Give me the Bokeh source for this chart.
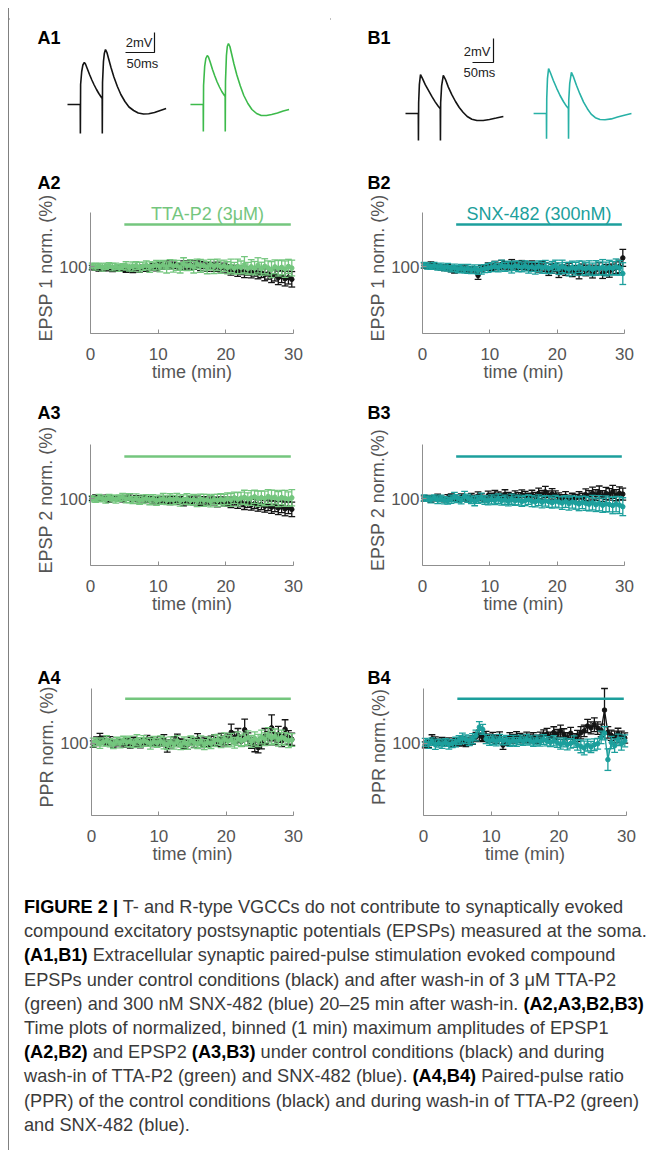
import math
from bokeh.plotting import figure
from bokeh.layouts import column, row
from bokeh.models import Range1d, FixedTicker, LinearAxis, Div
from bokeh.core.properties import value
from bokeh.embed import file_html
from bokeh.resources import INLINE

FONT = "Liberation Sans"

# ---------------- example traces (A1, B1) ----------------
A1_T = [0, 22, 22.2, 22.6, 24.5, 26.5, 29, 31, 34, 38, 42, 46, 50, 54, 58, 59.8, 60, 60.4, 62, 63.5, 65.5,
        68, 71, 75, 80, 86, 92, 99, 106, 114, 122, 131, 140, 150, 160, 170]
A1_CTRL = [0, 0, -2.9, 2.0, 3.3, 3.95, 4.2, 4.05, 3.6, 3.0, 2.45, 1.95, 1.5, 1.1, 0.75, 0.6, -2.9, 2.2, 4.3, 5.1, 5.5,
           5.2, 4.55, 3.7, 2.75, 1.8, 1.0, 0.3, -0.25, -0.6, -0.85, -0.95, -0.92, -0.8, -0.6, -0.4]
A1_TTA = [0, 0, -2.7, 1.9, 3.8, 4.6, 4.9, 4.75, 4.25, 3.5, 2.85, 2.25, 1.75, 1.3, 0.95, 0.8, -2.7, 2.3, 4.9, 5.8, 6.1,
          5.8, 5.05, 4.05, 2.95, 1.85, 0.9, 0.1, -0.5, -0.9, -1.1, -1.1, -1.0, -0.85, -0.65, -0.5]

B1_T = [0, 30.5, 30.8, 31.3, 33, 35.7, 40, 47, 55, 63, 71, 78, 82.8, 83.2, 83.7, 86, 90, 95, 102, 110,
        119, 128, 137, 147, 158, 170, 185, 200, 216, 233]
B1_CTRL = [0, 0, -2.25, 0.9, 2.4, 3.25, 2.95, 2.4, 1.9, 1.4, 0.95, 0.6, 0.4, -2.25, 0.9, 2.3, 3.17, 2.85, 2.2, 1.6,
           1.0, 0.5, 0.1, -0.25, -0.48, -0.58, -0.58, -0.5, -0.38, -0.25]
B1_SNX = [0, 0, -2.1, 1.25, 2.9, 3.75, 3.4, 2.75, 2.1, 1.5, 1.0, 0.62, 0.42, -2.1, 1.1, 2.5, 3.42, 3.05, 2.35, 1.65,
          0.95, 0.4, -0.05, -0.35, -0.5, -0.52, -0.45, -0.3, -0.15, 0.0]

# ---------------- time courses (normalised, %) ----------------
TIME = [0.25 + 0.5 * i for i in range(60)]

A2_CTRL = [99.5, 98.8, 98.5, 99.2, 98.6, 99.0, 98.2, 98.7, 99.1, 98.4,
           97.8, 98.5, 98.0, 99.0, 98.3, 99.4, 98.8, 99.6, 100.2, 99.0,
           101.2, 100.5, 101.8, 100.9, 102.0, 101.0, 100.4, 101.6, 100.8, 101.9,
           101.3, 102.2, 100.6, 101.5, 99.8, 100.9, 99.5, 100.2, 98.9, 99.6,
           98.4, 97.2, 98.0, 96.5, 97.4, 95.8, 96.8, 95.2, 96.3, 94.8,
           95.5, 93.6, 94.4, 92.5, 93.2, 91.0, 92.1, 90.3, 91.2, 89.8]
A2_CTRL_ERR = [1.8, 1.5, 2.0, 1.6, 1.9, 1.4, 2.1, 1.7, 1.5, 2.0,
               2.2, 1.9, 2.6, 2.1, 2.8, 2.0, 2.4, 1.9, 2.7, 2.2,
               2.6, 2.3, 3.2, 2.5, 3.0, 2.4, 2.8, 3.4, 2.5, 3.0,
               3.2, 2.7, 3.6, 2.9, 3.4, 2.8, 3.2, 3.8, 3.0, 3.5,
               3.4, 4.0, 3.2, 4.3, 3.7, 4.6, 3.5, 4.2, 3.9, 4.6,
               4.2, 5.0, 4.5, 5.4, 4.8, 5.6, 5.0, 6.0, 5.3, 6.4]
A2_TTA = [100.8, 100.2, 101.0, 99.6, 100.5, 101.2, 99.8, 100.6, 99.2, 100.4,
          100.9, 99.5, 100.3, 101.1, 99.7, 100.6, 101.4, 99.9, 100.8, 101.5,
          100.2, 101.8, 99.6, 102.1, 100.7, 101.3, 99.4, 102.4, 100.8, 101.6,
          99.8, 102.5, 100.9, 101.2, 99.5, 102.0, 100.3, 101.7, 99.9, 101.0,
          99.3, 100.8, 98.9, 100.5, 99.6, 101.8, 98.7, 100.2, 99.0, 101.3,
          98.5, 100.6, 99.2, 97.8, 100.1, 98.9, 99.7, 98.2, 100.4, 99.1]
A2_TTA_ERR = [2.4, 2.8, 2.2, 3.0, 2.6, 2.3, 3.1, 2.5, 2.8, 2.4,
              3.4, 2.9, 3.8, 3.2, 4.0, 3.4, 3.7, 4.3, 3.3, 3.9,
              4.2, 3.6, 4.6, 3.9, 4.9, 4.1, 4.4, 5.2, 3.8, 4.5,
              4.8, 4.0, 5.4, 4.4, 5.1, 4.3, 5.7, 4.7, 5.2, 4.6,
              5.0, 5.6, 4.8, 6.0, 5.3, 6.8, 5.1, 5.9, 5.5, 6.3,
              5.4, 6.2, 5.8, 6.6, 5.7, 6.4, 6.1, 6.8, 5.9, 6.5]

A3_CTRL = [100.5, 101.2, 99.8, 100.9, 101.4, 99.6, 100.8, 101.1, 100.2, 99.4,
           100.9, 101.6, 99.9, 100.4, 99.2, 100.7, 99.5, 100.1, 98.8, 99.7,
           99.0, 98.4, 99.3, 97.9, 98.8, 98.1, 99.2, 97.6, 98.5, 99.4,
           98.2, 99.0, 97.4, 98.6, 97.9, 99.1, 98.3, 97.2, 98.7, 97.5,
           97.9, 96.8, 98.2, 96.4, 97.3, 95.7, 96.9, 95.2, 96.1, 94.6,
           95.4, 93.9, 94.8, 93.2, 94.1, 92.5, 93.5, 91.8, 92.9, 91.4]
A3_CTRL_ERR = [1.7, 2.1, 1.8, 2.0, 1.6, 2.3, 1.9, 1.7, 2.2, 1.8,
               2.1, 2.6, 2.0, 2.3, 2.7, 2.1, 2.5, 1.9, 2.8, 2.3,
               2.6, 2.2, 2.9, 2.5, 3.1, 2.4, 2.8, 3.3, 2.6, 3.0,
               3.0, 3.5, 2.8, 3.2, 2.7, 3.4, 3.1, 3.7, 2.9, 3.3,
               3.5, 3.9, 3.3, 4.2, 3.7, 4.4, 3.8, 4.5, 4.0, 4.7,
               4.2, 4.8, 4.4, 5.1, 4.6, 5.4, 4.8, 5.7, 5.0, 6.0]
A3_TTA = [100.2, 99.4, 100.9, 100.1, 99.6, 101.3, 100.4, 99.8, 100.7, 101.5,
          99.9, 100.6, 99.1, 100.3, 98.8, 99.7, 100.5, 99.2, 100.1, 98.6,
          99.4, 100.2, 98.9, 99.8, 99.1, 100.4, 98.7, 99.6, 100.0, 98.9,
          99.5, 98.4, 99.9, 98.8, 99.3, 98.1, 99.6, 98.7, 99.8, 99.0,
          100.3, 99.2, 101.0, 99.6, 100.7, 101.4, 99.9, 100.8, 101.8, 100.2,
          101.1, 100.4, 102.0, 100.9, 101.5, 99.8, 101.2, 100.5, 99.9, 101.0]
A3_TTA_ERR = [2.6, 2.3, 2.9, 2.5, 3.1, 2.4, 2.8, 3.2, 2.6, 3.0,
              3.2, 3.7, 3.0, 3.9, 3.3, 3.6, 3.1, 4.0, 3.5, 3.8,
              3.8, 4.3, 3.6, 4.5, 3.9, 4.2, 4.6, 3.8, 4.4, 4.0,
              4.3, 4.8, 4.1, 5.0, 4.4, 4.7, 4.2, 5.1, 4.5, 4.9,
              4.8, 5.3, 4.6, 5.6, 5.0, 5.8, 5.2, 6.1, 5.4, 6.3,
              5.5, 6.0, 5.7, 6.4, 5.6, 6.2, 5.9, 6.6, 6.0, 6.7]

A4_CTRL = [99.2, 101.5, 103.8, 102.4, 100.8, 101.9, 99.6, 101.2, 100.4, 99.8,
           100.9, 99.5, 101.6, 100.2, 99.4, 100.8, 102.5, 101.3, 100.1, 101.7,
           100.6, 102.8, 97.2, 99.4, 101.5, 103.0, 100.3, 99.1, 98.6, 101.4,
           100.2, 103.2, 99.8, 101.0, 100.4, 101.8, 102.5, 100.9, 103.4, 101.6,
           103.0, 108.5, 104.2, 106.0, 101.5, 110.5, 103.0, 100.2, 97.9, 96.5,
           99.8, 105.5, 104.0, 112.0, 103.5, 107.0, 101.8, 111.0, 104.5, 103.0]
A4_CTRL_ERR = [2.6, 3.4, 3.8, 3.0, 2.5, 3.2, 2.8, 3.1, 2.4, 2.9,
               2.8, 3.5, 3.0, 2.7, 3.2, 2.9, 3.6, 3.1, 2.8, 3.4,
               3.0, 3.9, 4.3, 3.2, 3.5, 4.1, 3.1, 3.4, 3.6, 3.2,
               3.5, 4.2, 3.4, 3.7, 3.2, 3.6, 4.1, 3.5, 4.3, 3.8,
               4.2, 6.5, 4.6, 5.5, 4.1, 8.4, 5.0, 4.3, 4.7, 4.2,
               4.4, 6.0, 5.3, 10.2, 4.8, 6.2, 4.6, 7.4, 5.4, 4.9]
A4_TTA = [100.5, 101.2, 99.6, 100.9, 101.8, 100.3, 99.2, 101.5, 100.1, 102.0,
          100.7, 101.4, 99.8, 102.2, 100.5, 101.9, 100.8, 99.5, 101.3, 100.2,
          101.6, 99.9, 98.6, 100.8, 99.2, 101.5, 98.4, 100.6, 99.1, 101.8,
          100.4, 99.3, 101.2, 98.8, 100.6, 99.6, 101.9, 102.8, 100.9, 103.2,
          101.5, 102.6, 100.2, 103.5, 101.8, 102.9, 104.2, 101.3, 103.6, 102.0,
          104.8, 103.1, 106.2, 104.0, 105.4, 102.8, 104.6, 103.3, 101.9, 102.5]
A4_TTA_ERR = [3.4, 3.0, 3.8, 3.2, 4.0, 3.3, 3.6, 3.1, 3.9, 3.4,
              3.7, 4.1, 3.3, 4.4, 3.8, 4.0, 3.4, 4.2, 3.9, 3.6,
              4.0, 4.5, 3.7, 4.1, 3.9, 4.4, 3.6, 4.2, 4.0, 3.8,
              4.1, 3.7, 4.5, 3.9, 4.2, 4.0, 4.6, 4.1, 4.4, 4.8,
              4.5, 5.0, 4.2, 5.3, 4.6, 4.9, 5.5, 4.7, 5.2, 4.8,
              5.4, 5.0, 6.0, 5.3, 5.7, 5.2, 5.6, 4.9, 5.5, 5.0]

B2_CTRL = [101.2, 100.5, 101.8, 100.9, 100.2, 99.6, 98.8, 99.5, 98.2, 97.6,
           98.4, 97.9, 98.8, 97.2, 98.1, 97.5, 93.0, 98.9, 99.6, 100.4,
           99.8, 101.2, 100.5, 102.0, 101.4, 100.8, 102.3, 101.5, 100.6, 101.9,
           101.0, 100.2, 101.4, 100.0, 99.2, 100.6, 99.8, 96.2, 98.5, 99.6,
           95.1, 98.0, 97.2, 99.4, 96.0, 97.8, 94.6, 98.5, 96.9, 97.8,
           95.4, 97.4, 98.8, 94.8, 97.6, 96.5, 98.2, 99.4, 100.4, 107.5]
B2_CTRL_ERR = [2.1, 1.8, 2.4, 1.9, 2.0, 2.3, 1.8, 2.5, 2.2, 2.6,
               2.4, 2.1, 2.8, 2.5, 2.2, 2.6, 3.2, 2.4, 2.1, 3.0,
               2.7, 3.3, 2.6, 3.5, 2.9, 3.2, 3.8, 3.0, 2.8, 3.4,
               3.2, 2.9, 3.6, 3.1, 3.4, 4.0, 3.5, 3.2, 3.8, 3.4,
               3.8, 3.5, 4.2, 3.7, 4.0, 3.4, 4.4, 3.9, 4.2, 3.7,
               4.5, 4.0, 4.7, 4.3, 4.5, 5.0, 4.2, 4.8, 5.2, 7.0]
B2_SNX = [101.5, 100.8, 100.2, 101.0, 99.9, 100.4, 99.2, 99.8, 98.6, 99.3,
          98.1, 98.9, 97.8, 98.5, 97.6, 98.3, 97.1, 97.9, 98.6, 99.2,
          99.8, 100.5, 99.4, 101.2, 100.1, 100.8, 99.6, 101.0, 100.4, 99.7,
          100.9, 99.5, 100.2, 99.0, 100.6, 99.3, 100.1, 98.8, 99.7, 101.2,
          98.6, 100.4, 99.1, 98.2, 99.8, 98.5, 100.2, 99.0, 98.4, 99.6,
          98.0, 99.3, 98.7, 99.9, 98.3, 99.5, 98.9, 100.1, 99.2, 94.5]
B2_SNX_ERR = [2.2, 2.6, 2.1, 2.8, 2.4, 2.7, 2.5, 3.1, 2.6, 3.0,
              2.9, 3.3, 2.8, 3.6, 3.1, 3.4, 3.2, 3.8, 3.3, 3.7,
              3.6, 4.1, 3.5, 4.4, 3.8, 4.0, 4.6, 3.9, 4.3, 3.7,
              4.2, 4.6, 4.0, 4.9, 4.4, 4.5, 5.3, 4.3, 4.8, 4.4,
              4.8, 5.2, 4.6, 5.6, 5.0, 5.3, 4.8, 5.8, 5.1, 5.5,
              5.2, 5.9, 5.4, 6.2, 5.7, 6.0, 5.6, 6.5, 6.0, 9.0]

B3_CTRL = [100.4, 101.0, 99.8, 100.6, 101.5, 100.2, 99.5, 100.9, 101.8, 100.3,
           99.6, 101.2, 100.5, 99.9, 101.6, 100.8, 102.4, 101.5, 100.2, 102.8,
           101.6, 103.2, 102.5, 101.8, 103.6, 102.2, 101.4, 102.9, 101.9, 103.4,
           102.6, 101.5, 103.2, 102.0, 104.6, 103.4, 105.8, 102.8, 104.2, 103.0,
           101.6, 100.4, 102.2, 99.8, 101.0, 100.5, 101.8, 100.9, 103.5, 102.6,
           104.8, 103.2, 105.5, 102.4, 104.6, 103.8, 105.9, 103.1, 104.7, 104.0]
B3_CTRL_ERR = [2.2, 2.0, 2.6, 2.1, 2.5, 2.2, 1.9, 2.7, 2.4, 2.1,
               2.5, 2.9, 2.3, 2.7, 3.0, 2.4, 3.4, 2.8, 2.6, 3.6,
               3.1, 3.8, 3.3, 3.0, 4.0, 3.2, 2.9, 3.7, 3.3, 4.1,
               3.6, 3.2, 4.0, 3.5, 4.4, 3.7, 4.6, 3.9, 4.3, 3.6,
               3.5, 3.1, 3.9, 3.4, 3.7, 3.3, 4.2, 3.8, 4.8, 4.3,
               4.9, 4.4, 5.2, 4.5, 5.0, 4.8, 5.4, 4.6, 5.3, 4.9]
B3_SNX = [100.8, 100.2, 99.6, 100.9, 99.3, 100.4, 99.0, 98.6, 99.8, 101.6,
          100.3, 98.9, 102.2, 100.6, 99.4, 98.1, 99.7, 101.0, 99.2, 98.4,
          99.6, 98.8, 100.1, 98.5, 99.3, 98.0, 99.8, 98.6, 99.1, 97.9,
          98.7, 99.4, 98.2, 97.6, 98.9, 97.3, 98.4, 97.8, 96.9, 98.1,
          97.4, 96.6, 97.9, 96.2, 97.5, 96.8, 95.9, 97.2, 96.4, 95.6,
          96.9, 95.2, 96.5, 94.8, 96.0, 95.4, 94.6, 95.8, 94.9, 93.6]
B3_SNX_ERR = [2.5, 2.2, 2.9, 2.4, 3.1, 2.7, 3.0, 2.8, 3.4, 3.9,
              3.3, 3.0, 4.0, 3.4, 3.2, 3.7, 3.3, 3.8, 3.6, 3.3,
              3.7, 3.5, 4.0, 3.6, 3.9, 3.7, 4.2, 3.8, 4.1, 4.0,
              4.2, 3.9, 4.5, 4.1, 4.4, 4.6, 4.3, 4.8, 4.5, 4.9,
              4.7, 5.2, 4.8, 5.4, 5.0, 5.3, 5.6, 5.2, 5.8, 5.5,
              6.0, 5.6, 6.3, 5.9, 6.5, 6.1, 6.8, 6.4, 7.0, 7.4]

B4_CTRL = [98.6, 99.4, 103.2, 102.0, 100.6, 101.4, 100.2, 101.0, 99.8, 100.9,
           100.4, 101.5, 100.0, 101.2, 102.4, 104.8, 106.2, 104.5, 105.6, 103.8,
           104.9, 103.2, 105.1, 98.4, 101.5, 104.6, 103.4, 105.2, 104.1, 103.5,
           105.0, 103.7, 104.5, 103.0, 104.8, 106.5, 107.2, 105.0, 108.4, 106.9,
           109.5, 107.0, 104.2, 107.8, 103.5, 105.6, 108.2, 109.6, 113.5, 112.0,
           114.5, 111.8, 110.0, 126.0, 108.5, 106.2, 104.8, 107.5, 105.0, 104.0]
B4_CTRL_ERR = [2.4, 2.8, 3.4, 2.9, 2.6, 3.0, 2.7, 3.1, 2.5, 2.9,
               2.8, 3.3, 2.7, 3.0, 3.3, 3.6, 4.0, 3.4, 3.7, 3.2,
               3.5, 3.3, 3.8, 3.4, 3.2, 3.7, 3.4, 3.8, 3.5, 3.3,
               3.6, 3.4, 3.7, 3.3, 3.8, 4.0, 4.4, 3.7, 4.5, 3.9,
               4.7, 4.3, 4.0, 4.6, 3.9, 4.4, 4.8, 4.5, 5.2, 4.7,
               5.4, 4.9, 5.0, 17.0, 4.5, 4.0, 4.6, 4.2, 4.4, 4.0]
B4_SNX = [100.6, 99.4, 101.2, 98.8, 100.0, 99.2, 100.5, 98.9, 99.7, 100.8,
          102.4, 104.0, 103.0, 101.8, 103.5, 106.0, 112.5, 110.8, 103.2, 101.6,
          102.8, 101.4, 103.0, 101.9, 102.5, 100.9, 102.2, 101.0, 102.6, 101.5,
          103.1, 102.0, 100.8, 102.4, 101.2, 102.8, 101.5, 100.6, 101.8, 100.4,
          99.2, 100.6, 98.9, 99.8, 101.2, 98.6, 97.4, 96.2, 98.5, 97.0,
          98.8, 99.5, 104.5, 107.8, 87.0, 100.5, 98.0, 102.6, 99.4, 101.8]
B4_SNX_ERR = [3.1, 3.5, 2.9, 3.7, 3.2, 3.4, 3.0, 3.6, 3.2, 3.8,
              3.5, 3.9, 3.4, 3.7, 4.0, 4.2, 4.4, 3.9, 3.6, 3.4,
              3.7, 3.5, 3.8, 3.3, 3.6, 3.4, 3.9, 3.5, 3.7, 3.3,
              3.8, 3.6, 3.4, 3.9, 3.5, 3.8, 3.6, 3.4, 4.0, 3.7,
              3.9, 3.6, 4.3, 3.8, 4.5, 4.2, 5.0, 5.4, 4.7, 4.4,
              4.6, 4.3, 4.9, 5.2, 8.5, 4.8, 5.3, 4.5, 5.0, 4.7]

DRUG_ON, DRUG_OFF, DRUG_LEVEL = 5.0, 29.6, 135
X_TICKS = [0, 10, 20, 30]
Y_TICKS = [100]

C_BLACK = "#141414"
C_GREEN = "#74c67e"
C_TEAL = "#1c9f9c"
C_GREEN_TRACE = "#3dba4b"
C_TEAL_TRACE = "#28b1a6"
C_AXIS = "#8f8f8f"
C_TEXT = "#555555"
C_FRAME = "#808080"


# ---------------- helpers ----------------
def blank_fig(w, h, xr, yr):
    p = figure(width=w, height=h, x_range=Range1d(*xr), y_range=Range1d(*yr),
               output_backend="svg", toolbar_location=None, title=None,
               x_axis_type=None, y_axis_type=None,
               min_border_left=0, min_border_right=0, min_border_top=0, min_border_bottom=0)
    p.outline_line_color = None
    p.background_fill_color = "white"
    p.border_fill_color = "white"
    return p


def txt(p, x, y, s, size, color="black", bold=False, align="left", baseline="middle", yoff=0, angle=0.0):
    p.text(x=[x], y=[y], text=[s], text_font=value(FONT), text_font_size=size,
           text_font_style="bold" if bold else "normal", text_color=color,
           text_align=align, text_baseline=baseline, y_offset=yoff, angle=angle)


def trace_panel(w, h, origin, x0px, base_px, ppms, ppmv, t, ctrl, drug, drug_gap_ms, drug_color,
                label, label_px, bar_corner_px, bar_w_ms, bar_h_mv, txt_mv_px, txt_ms_px):
    ox, oy = origin  # page coordinates of the figure's top-left
    xr = ((ox - x0px) / ppms, (ox + w - x0px) / ppms)
    yr = ((base_px - (oy + h)) / ppmv, (base_px - oy) / ppmv)
    p = blank_fig(w, h, xr, yr)

    def d(px, py):
        return (px - x0px) / ppms, (base_px - py) / ppmv

    p.line(t, ctrl, line_color=C_BLACK, line_width=1.6)
    p.line([v + drug_gap_ms for v in t], drug, line_color=drug_color, line_width=1.6)
    cx, cy = d(*bar_corner_px)
    p.line([cx - bar_w_ms, cx, cx], [cy, cy, cy + bar_h_mv], line_color=C_BLACK, line_width=1.2)
    lx, ly = d(*txt_mv_px)
    txt(p, lx, ly, "2mV", "13px", color="#222222", align="right")
    sx, sy = d(*txt_ms_px)
    txt(p, sx, sy, "50ms", "13px", color="#222222", align="left")
    ax_, ay_ = d(*label_px)
    txt(p, ax_, ay_, label, "18px", bold=True)
    return p


def time_panel(w, h, origin, frame, yr, ylabel, label, label_px, series, drug_color=None, drug_text=None):
    ox, oy = origin
    fl, ft, fw, fh = frame  # page coordinates of the axes box
    xpp = fw / 30.0
    ypp = fh / float(yr[1] - yr[0])

    def dx(px):
        return (px - fl) / xpp

    def dy(py):
        return yr[1] - (py - ft) / ypp

    p = blank_fig(w, h, (dx(ox), dx(ox + w)), (dy(oy + h), dy(oy)))

    xax = LinearAxis(fixed_location=yr[0], bounds=(0, 30), ticker=FixedTicker(ticks=X_TICKS))
    yax = LinearAxis(fixed_location=0, bounds=yr, ticker=FixedTicker(ticks=Y_TICKS))
    for ax in (xax, yax):
        ax.axis_line_color = C_AXIS
        ax.axis_line_width = 1
        ax.major_tick_line_color = C_AXIS
        ax.major_tick_in = 4
        ax.major_tick_out = 0
        ax.minor_tick_line_color = None
        ax.major_label_text_font = FONT
        ax.major_label_text_font_size = "17px"
        ax.major_label_text_color = C_TEXT
    xax.major_label_standoff = 14
    yax.major_label_standoff = 3
    p.add_layout(xax, "below")
    p.add_layout(yax, "left")

    txt(p, 15, dy(ft + fh + 38), "time (min)", "18px", color=C_TEXT, align="center")
    txt(p, dx(fl - 45), dy(ft + fh / 2.0 - 5), ylabel, "18px", color=C_TEXT, align="center",
        angle=math.pi / 2)

    cap = 0.5
    for t, v, e, color in series:
        lo = [a - b for a, b in zip(v, e)]
        hi = [a + b for a, b in zip(v, e)]
        p.segment(t, lo, t, hi, line_color=color, line_width=1.3)
        p.segment([x - cap for x in t], hi, [x + cap for x in t], hi, line_color=color, line_width=1.3)
        p.segment([x - cap for x in t], lo, [x + cap for x in t], lo, line_color=color, line_width=1.3)
        p.line(t, v, line_color=color, line_width=1.3)
        p.scatter(t, v, size=4.5, color=color)

    if drug_color:
        p.segment([DRUG_ON], [DRUG_LEVEL], [DRUG_OFF], [DRUG_LEVEL], line_color=drug_color, line_width=2.5)
        if drug_text:
            txt(p, (DRUG_ON + DRUG_OFF) / 2, DRUG_LEVEL, drug_text, "18px", color=drug_color,
                align="center", baseline="bottom", yoff=-1)

    txt(p, dx(label_px[0]), dy(label_px[1]), label, "18px", bold=True)
    return p


# ---------------- layout geometry (page pixels) ----------------
# the column starts at page (8, 8): a 2px top rule, then the panels
XA, XB, WA, WB = 9, 330, 321, 318
Y1, H1 = 10, 150
Y2, H2 = 160, 232
Y3, H3 = 392, 236
Y4, H4 = 628, 250

a1 = trace_panel(WA, H1, (XA, Y1), 67, 104, 0.58, 10.0, A1_T, A1_CTRL, A1_TTA, 212, C_GREEN_TRACE,
                 "A1", (37, 37), (154, 52), 50, 2, (152, 42), (126, 63))
b1 = trace_panel(WB, H1, (XB, Y1), 405, 113, 0.42, 12.0, B1_T, B1_CTRL, B1_SNX, 305, C_TEAL_TRACE,
                 "B1", (367, 37), (493, 62), 50, 2, (490, 51), (463, 72))

YR23 = (45, 145)
YR4 = (43, 143)

a2 = time_panel(WA, H2, (XA, Y2), (90, 212, 203, 121), YR23, "EPSP 1 norm. (%)", "A2", (37, 182),
                [(TIME, A2_CTRL, A2_CTRL_ERR, C_BLACK), (TIME, A2_TTA, A2_TTA_ERR, C_GREEN)],
                C_GREEN, "TTA-P2 (3μM)")
b2 = time_panel(WB, H2, (XB, Y2), (422, 212, 202, 121), YR23, "EPSP 1 norm. (%)", "B2", (367, 182),
                [(TIME, B2_CTRL, B2_CTRL_ERR, C_BLACK), (TIME, B2_SNX, B2_SNX_ERR, C_TEAL)],
                C_TEAL, "SNX-482 (300nM)")
a3 = time_panel(WA, H3, (XA, Y3), (90, 444, 203, 121), YR23, "EPSP 2 norm. (%)", "A3", (37, 412),
                [(TIME, A3_CTRL, A3_CTRL_ERR, C_BLACK), (TIME, A3_TTA, A3_TTA_ERR, C_GREEN)],
                C_GREEN)
b3 = time_panel(WB, H3, (XB, Y3), (422, 444, 202, 121), YR23, "EPSP 2 norm.(%)", "B3", (367, 412),
                [(TIME, B3_CTRL, B3_CTRL_ERR, C_BLACK), (TIME, B3_SNX, B3_SNX_ERR, C_TEAL)],
                C_TEAL)
a4 = time_panel(WA, H4, (XA, Y4), (91, 688, 202, 127), YR4, "PPR norm. (%)", "A4", (37, 677),
                [(TIME, A4_CTRL, A4_CTRL_ERR, C_BLACK), (TIME, A4_TTA, A4_TTA_ERR, C_GREEN)],
                C_GREEN)
b4 = time_panel(WB, H4, (XB, Y4), (423, 688, 203, 127), YR4, "PPR norm.(%)", "B4", (367, 677),
                [(TIME, B4_CTRL, B4_CTRL_ERR, C_BLACK), (TIME, B4_SNX, B4_SNX_ERR, C_TEAL)],
                C_TEAL)

CAPTION_LINES = [
    "<b>FIGURE 2 |</b> T- and R-type VGCCs do not contribute to synaptically evoked",
    "compound excitatory postsynaptic potentials (EPSPs) measured at the soma.",
    "<b>(A1,B1)</b> Extracellular synaptic paired-pulse stimulation evoked compound",
    "EPSPs under control conditions (black) and after wash-in of 3 μM TTA-P2",
    "(green) and 300 nM SNX-482 (blue) 20–25 min after wash-in. <b>(A2,A3,B2,B3)</b>",
    "Time plots of normalized, binned (1 min) maximum amplitudes of EPSP1",
    "<b>(A2,B2)</b> and EPSP2 <b>(A3,B3)</b> under control conditions (black) and during",
    "wash-in of TTA-P2 (green) and SNX-482 (blue). <b>(A4,B4)</b> Paired-pulse ratio",
    "(PPR) of the control conditions (black) and during wash-in of TTA-P2 (green)",
    "and SNX-482 (blue).",
]
cap_html = ("<div style=\"font-family:'Liberation Sans',Arial,sans-serif;font-size:18.2px;"
            "line-height:24.2px;color:#3a3a3a;padding:17px 0 0 15px;white-space:nowrap;\">"
            + "".join("<div>%s</div>" % ln.replace("<b>", "<b style='color:#000'>") for ln in CAPTION_LINES)
            + "</div>")
caption = Div(text=cap_html, width=WA + WB, height=272, margin=(0, 0, 0, 0))

# top rule of the figure frame, as real HTML content
rule_html = ("<div style=\"width:%dpx;height:2px;background:%s;margin:0;padding:0;\"></div>"
             % (WA + WB, C_FRAME))
top_rule = Div(text=rule_html, width=WA + WB, height=2, margin=(0, 0, 0, 0))

page = column(top_rule, row(a1, b1), row(a2, b2), row(a3, b3), row(a4, b4), caption,
              margin=(8, 0, 0, 8),
              styles={"border-left": "1px solid " + C_FRAME})

open("out.html", "w").write(file_html(page, INLINE))
